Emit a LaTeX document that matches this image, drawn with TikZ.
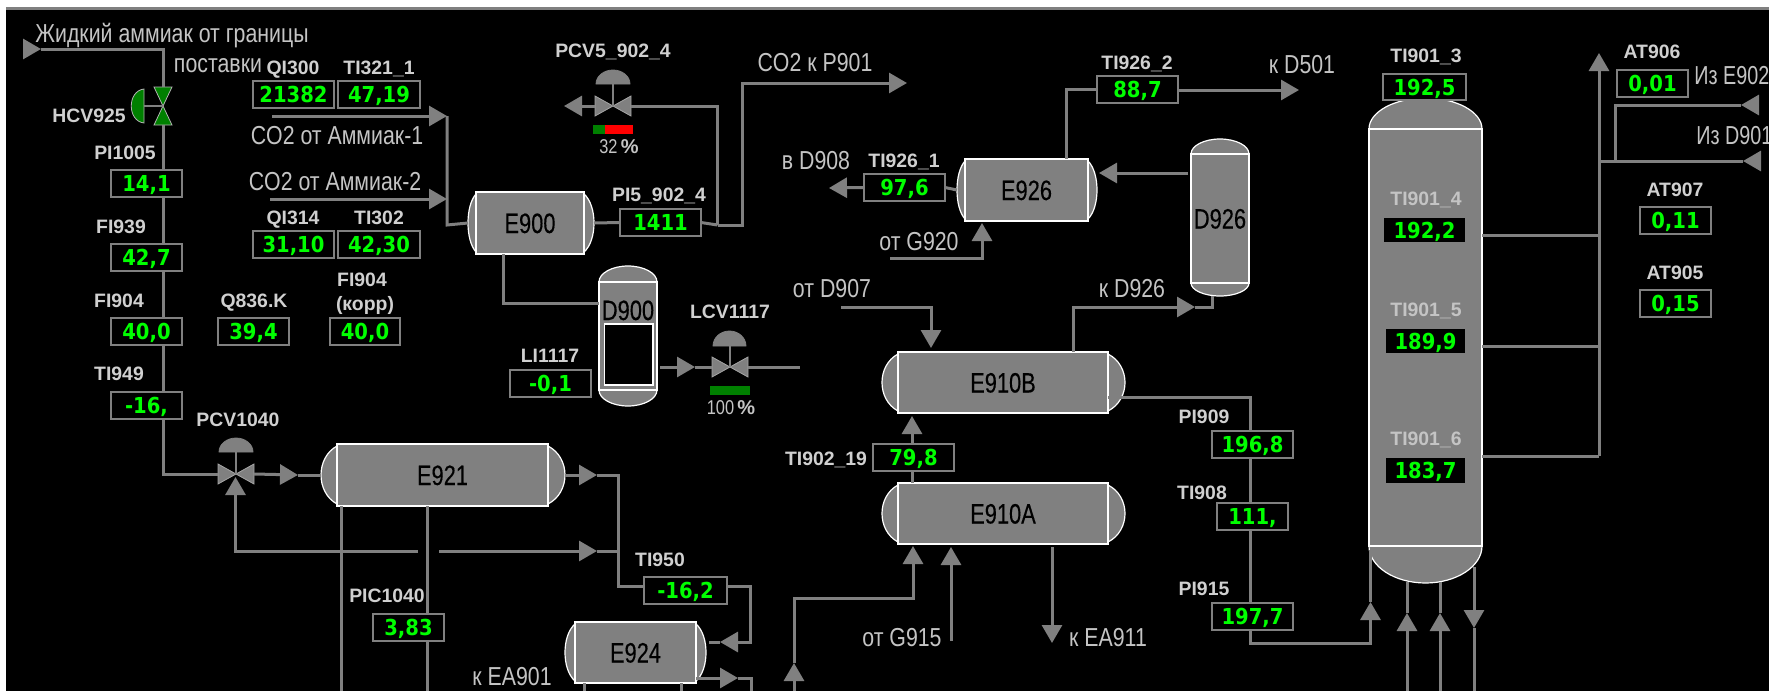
\documentclass[tikz,border=0pt]{standalone}
\usepackage{fontspec}
\usetikzlibrary{arrows.meta}
\newfontfamily\lblfamily{Liberation Sans}
\newfontfamily\txtfamily[FakeStretch=0.82]{Liberation Sans}
\newfontfamily\edgefamily[FakeStretch=0.76]{Liberation Sans}
\newfontfamily\namefamily[FakeStretch=0.78,FakeBold=0.25]{Liberation Sans}
\newfontfamily\valfamily[FakeStretch=0.89]{DejaVu Sans}
\newcommand{\lblfont}{\lblfamily\bfseries\fontsize{9.7}{11}\selectfont}
\newcommand{\txtfont}{\txtfamily\fontsize{13}{15}\selectfont}
\newcommand{\edgefont}{\edgefamily\fontsize{13}{15}\selectfont}
\newcommand{\namefont}{\namefamily\fontsize{14}{16}\selectfont}
\newcommand{\valfont}{\valfamily\bfseries\fontsize{11}{13}\selectfont}
\newcommand{\pctfont}{\txtfamily\fontsize{10}{12}\selectfont}
\definecolor{pipegray}{HTML}{808080}
\definecolor{lightg}{HTML}{C4C4C4}
\definecolor{boldg}{HTML}{D0D0D0}
\definecolor{valgreen}{HTML}{00FF00}
\definecolor{dkgreen}{HTML}{008000}
\tikzset{
  pipe/.style={draw=pipegray,line width=1.5pt},
  flow/.style={pipe,-{Triangle[length=9pt,width=10pt]}},
  valuebox/.style={draw=pipegray,line width=.75pt,fill=black,text=valgreen,font=\valfont,inner sep=0pt,outer sep=0pt,text height=8pt,text depth=0pt},
  valuedark/.style={fill=black,text=valgreen,font=\valfont,inner sep=0pt,outer sep=0pt,text height=8pt,text depth=0pt},
  lbl/.style={text=boldg,font=\lblfont,inner sep=0pt,text height=7pt,text depth=0pt},
  lbldim/.style={text=lightg,font=\lblfont,inner sep=0pt,text height=7pt,text depth=0pt},
  txt/.style={text=lightg,font=\txtfont,inner sep=0pt,text height=9.3pt,text depth=0pt},
  edgetxt/.style={text=lightg,font=\edgefont,inner sep=0pt,text height=9.3pt,text depth=0pt},
  pct/.style={text=lightg,font=\pctfont,inner sep=0pt,text height=7pt,text depth=0pt},
  vesselbody/.style={draw=white,line width=.75pt,fill=pipegray,text=black,font=\namefont,inner sep=0pt,outer sep=0pt,text height=10pt,text depth=0pt},
  vesselcap/.style={draw=white,line width=.6pt,fill=pipegray},
  gaugebox/.style={draw=white,line width=.75pt,fill=black,inner sep=0pt,outer sep=0pt},
  valvebody/.style={inner sep=0pt,outer sep=0pt},
  valveshape/.style={fill=pipegray,draw=gray!70!white,line width=.4pt},
  greenvalve/.style={fill=dkgreen,draw=gray!60!white,line width=.4pt},
  bonnetshape/.style={fill=pipegray,draw=pipegray,line width=.4pt},
  stem/.style={draw=pipegray,line width=.8pt},
}
% reading box: style, name, x1, y1, x2, y2, text
\newcommand{\rdg}[7][valuebox]{%
  \pgfmathsetmacro\rw{(#5-#3)*0.5}\pgfmathsetmacro\rh{(#6-#4)*0.5}%
  \node[#1,minimum width=\rw pt,minimum height=\rh pt] (#2) at ({(#3+#5)/2},{(#4+#6)/2}) {#7};}
% dome: style, L, R, base, apex
\newcommand{\dome}[5]{%
  \pgfmathsetmacro\dcx{(#2+#3)/2}\pgfmathsetmacro\dhw{(#3-#2)/2}%
  \pgfmathsetmacro\dya{#4+(#5-#4)*0.55}\pgfmathsetmacro\dxl{\dcx-\dhw*0.55}\pgfmathsetmacro\dxr{\dcx+\dhw*0.55}%
  \draw[#1] (#2,#4) .. controls (#2,\dya) and (\dxl,#5) .. (\dcx,#5) .. controls (\dxr,#5) and (#3,\dya) .. (#3,#4) -- cycle;}
% horizontal vessel: name, L, T, R, B, iL, iR, text
\newcommand{\hves}[8]{%
  \pgfmathsetmacro\cl{#6-(#6-#2)*4/3}\pgfmathsetmacro\cr{#7+(#4-#7)*4/3}%
  \pgfmathsetmacro\ct{#3+(#5-#3)*0.22}\pgfmathsetmacro\cb{#5-(#5-#3)*0.22}%
  \pgfmathsetmacro\vm{(#3+#5)/2}%
  \draw[vesselcap] (#6,#3+2) .. controls (\cl,\ct) and (\cl,\cb) .. (#6,#5-2) -- cycle;
  \draw[vesselcap] (#7,#3+2) .. controls (\cr,\ct) and (\cr,\cb) .. (#7,#5-2) -- cycle;
  \rdg[vesselbody]{#1}{#6}{#3}{#7}{#5}{#8}%
  \coordinate (#1-W) at (#2,\vm);\coordinate (#1-E) at (#4,\vm);}
% vertical vessel: name, L, apex top, T, R, B, apex bottom, text
\newcommand{\vves}[8]{%
  \dome{vesselcap}{#2}{#5}{#4}{#3}%
  \dome{vesselcap}{#2}{#5}{#6}{#7}%
  \rdg[vesselbody]{#1}{#2}{#4}{#5}{#6}{#8}}
% valve: name, x1, y1, x2, y2 (triangles pointing at each other, left and right)
\newcommand{\valve}[5]{%
  \rdg[valvebody]{#1}{#2}{#3}{#4}{#5}{}%
  \draw[valveshape] (#1.north west) -- (#1.south east) -- (#1.north east) -- (#1.south west) -- cycle;}
\begin{document}
\begin{tikzpicture}[x=0.5pt,y=-0.5pt]
\useasboundingbox (0,0) rectangle (1769,691);
\fill[white] (0,0) rectangle (1769,691);
\fill[black] (6,10) rectangle (1769,691);
\fill[pipegray] (6,7) rectangle (1769,10);

% ---------- vessels
\hves{E900}{468}{192}{594}{254}{476}{584}{E900}
\hves{E921}{321}{444}{565}{506}{337}{548}{E921}
\hves{E924}{565}{622}{706}{683}{575}{696}{E924}
\hves{E926}{957}{159}{1097}{221}{965}{1088}{E926}
\hves{E910B}{882}{352}{1125}{413}{898}{1108}{E910B}
\hves{E910A}{882}{483}{1125}{544}{898}{1108}{E910A}
\vves{D900}{599}{266}{282}{657}{390}{406}{}
\rdg[gaugebox]{D900g}{604.5}{324}{653}{385}{}
\node[vesselbody,draw=none,fill=none] (D900t) at (628,310) {D900};
\vves{D926}{1191}{139}{154}{1249}{283}{296}{D926}
\vves{T901}{1369}{98}{129}{1482}{546}{583}{}

% ---------- valves
\rdg[valvebody]{HCV}{154}{87}{172}{125}{}
\draw[greenvalve] (HCV.north west) -- (HCV.north east) -- (HCV.south west) -- (HCV.south east) -- cycle;
\draw[greenvalve] (144,89) .. controls (127,91) and (127,121) .. (144,123) -- cycle;
\coordinate (HCVact) at (144,106);
\draw[stem] (HCVact) -- (HCV.center);

\valve{PCV1}{218}{464}{254}{484}
\dome{bonnetshape}{219}{253}{452}{438}
\coordinate (PCV1top) at (236,452);
\draw[stem] (PCV1top) -- (PCV1.center);

\valve{PCV5}{595}{96}{631}{116}
\dome{bonnetshape}{596}{630}{84}{70}
\coordinate (PCV5top) at (613,84);
\draw[stem] (PCV5top) -- (PCV5.center);

\valve{LCV}{712}{357}{748}{377}
\dome{bonnetshape}{713}{746}{346}{331}
\coordinate (LCVtop) at (730,346);
\draw[stem] (LCVtop) -- (LCV.center);

% ---------- readings
\rdg{b21382}{253}{81}{334}{108}{21382}
\rdg{b4719}{338}{81}{420}{108}{47,19}
\rdg{b141}{111}{170}{182}{197}{14,1}
\rdg{b427}{111}{244}{182}{271}{42,7}
\rdg{b400a}{111}{318}{182}{345}{40,0}
\rdg{b394}{218}{318}{289}{345}{39,4}
\rdg{b400b}{330}{318}{400}{345}{40,0}
\rdg{b3110}{253}{231}{334}{258}{31,10}
\rdg{b4230}{338}{231}{420}{258}{42,30}
\rdg{b16}{111}{392}{182}{419}{-16,}
\rdg{b383}{373}{614}{444}{641}{3,83}
\rdg{b01}{510}{370}{591}{397}{-0,1}
\rdg{b1411}{620}{209}{701}{236}{1411}
\rdg{b976}{864}{174}{945}{201}{97,6}
\rdg{b887}{1097}{76}{1178}{103}{88,7}
\rdg{b798}{873}{444}{954}{471}{79,8}
\rdg{b162}{644}{577}{727}{604}{-16,2}
\rdg{b1925}{1383}{74}{1466}{100}{192,5}
\rdg{b001}{1617}{70}{1688}{97}{0,01}
\rdg{b011}{1640}{207}{1711}{234}{0,11}
\rdg{b015}{1640}{290}{1711}{317}{0,15}
\rdg[valuedark]{b1922}{1384}{218}{1465}{242}{192,2}
\rdg[valuedark]{b1899}{1386}{329}{1465}{353}{189,9}
\rdg[valuedark]{b1837}{1386}{458}{1465}{483}{183,7}
\rdg{b1968}{1212}{431}{1293}{458}{196,8}
\rdg{b111}{1217}{503}{1288}{530}{111,}
\rdg{b1977}{1212}{603}{1293}{630}{197,7}

% ---------- connector end points
\coordinate (inN) at (24,49);      \coordinate (inNt) at (41,49);
\coordinate (spine) at (163,300);
\coordinate (pcv1t) at (298,475);  \coordinate (pcvtip) at (235.5,477);
\coordinate (r1) at (418,551);     \coordinate (r2) at (439,551);    \coordinate (r2t) at (597,551);
\coordinate (e921t) at (597,475);  \coordinate (j618) at (618,475);  \coordinate (j618m) at (618,551);
\coordinate (jb) at (618,586);     \coordinate (jc) at (750,586);
\coordinate (e924it) at (720,642); \coordinate (e924i) at (709,642); \coordinate (jd) at (750,642);
\coordinate (e924ot) at (738,678); \coordinate (je) at (751,678);    \coordinate (je2) at (751,691);
\coordinate (bot584) at (584,691); \coordinate (bot681) at (681,691);
\coordinate (bot341) at (341,691); \coordinate (bot427) at (427,691);
\coordinate (co1) at (272,116);    \coordinate (co1t) at (447,116);
\coordinate (co2) at (270,199);    \coordinate (co2t) at (447,199);
\coordinate (j447) at (447,225);
\coordinate (j503) at (503,303);
\coordinate (jv) at (717.5,225);   \coordinate (pcv5l) at (564,106);
\coordinate (jco) at (742,83);     \coordinate (cot) at (907,83);
\coordinate (lcvt) at (695,367);   \coordinate (lcvo) at (800,367);  \coordinate (d900o) at (660,367);
\coordinate (t926) at (829,188);
\coordinate (j1066) at (1066,89);  \coordinate (d501t) at (1299,90);
\coordinate (d926i) at (1188,173); \coordinate (e926it) at (1099,173);
\coordinate (g920) at (890,258);   \coordinate (g920t) at (982,223);
\coordinate (d907) at (841,307);   \coordinate (d907t) at (931,348);
\coordinate (e910k) at (1073,352); \coordinate (kdt) at (1195,307);  \coordinate (kdo) at (1212,296);
\coordinate (t798) at (912,416);
\coordinate (a794) at (794,691);   \coordinate (a794t) at (794,663); \coordinate (a913) at (913,598);
\coordinate (a913t) at (913,546);
\coordinate (g915) at (951,641);   \coordinate (g915t) at (951,547);
\coordinate (ea911) at (1052,547); \coordinate (ea911t) at (1052,643);
\coordinate (x1250) at (1250,397); \coordinate (x1370) at (1370.5,643);
\coordinate (x1370t) at (1370.5,602); \coordinate (x1370u) at (1370.5,550);
\coordinate (c1407) at (1407,691); \coordinate (c1407t) at (1407,613); \coordinate (c1407u) at (1407,582);
\coordinate (c1440) at (1440,691); \coordinate (c1440t) at (1440,613); \coordinate (c1440u) at (1440,582);
\coordinate (c1474) at (1474,567); \coordinate (c1474t) at (1474,628); \coordinate (c1474d) at (1474,691);
\coordinate (r235) at (1482,235);  \coordinate (r346) at (1482,346); \coordinate (r456) at (1482,456);
\coordinate (v1599) at (1599,456); \coordinate (v1599t) at (1599,53);
\coordinate (f161) at (1599,161);  \coordinate (f161t) at (1743,161);\coordinate (f161s) at (1760,161);
\coordinate (f105) at (1615,105);  \coordinate (f105t) at (1741,105);\coordinate (f105s) at (1757,105);
\coordinate (f161j) at (1615,161);

% ---------- ammonia line
\draw[flow] (inN) -- (inNt);
\draw[pipe] (inNt) -| (HCV.north -| spine);
\draw[pipe] (HCV.south -| spine) -- (b141.north -| spine);
\draw[pipe] (b141.south -| spine) -- (b427.north -| spine);
\draw[pipe] (b427.south -| spine) -- (b400a.north -| spine);
\draw[pipe] (b400a.south -| spine) -- (b16.north -| spine);
\draw[pipe] (b16.south -| spine) |- (PCV1.west);
\draw[flow] (PCV1.east) -- (pcv1t);
\draw[pipe] (pcv1t) -- (E921-W);
\draw[flow] (r1) -| (pcvtip);
\draw[flow] (r2) -- (r2t);
\draw[pipe] (r2t) -- (j618m);
\draw[flow] (E921-E) -- (e921t);
\draw[pipe] (e921t) -- (j618) |- (b162.west |- jb);
\draw[flow] (b162.east |- jc) -- (jc) -- (jd) -- (e924it);
\draw[pipe] (e924it) -- (e924i);
\draw[flow] (E924.east |- e924ot) -- (e924ot);
\draw[pipe] (e924ot) -- (je) -- (je2);
\draw[pipe] (E924.south -| bot584) -- (bot584);
\draw[pipe] (E924.south -| bot681) -- (bot681);
\draw[pipe] (E921.south -| bot341) -- (bot341);
\draw[pipe] (E921.south -| bot427) -- (b383.north -| bot427);
\draw[pipe] (b383.south -| bot427) -- (bot427);

% ---------- CO2 and E900
\draw[flow] (co1) -- (co1t);
\draw[flow] (co2) -- (co2t);
\draw[pipe] (co1t) -- (j447) -- (E900-W);
\draw[pipe] (E900.south -| j503) -- (j503) -- (D900.west |- j503);
\draw[pipe] (E900-E) -- (b1411.west);
\draw[pipe] (b1411.east) -- (jv);
\draw[flow] (jv) -| (jco) -- (cot);
\draw[pipe] (jv) |- (PCV5.east);
\draw[flow] (PCV5.west) -- (pcv5l);
\draw[flow] (d900o) -- (lcvt);
\draw[pipe] (lcvt) -- (LCV.west);
\draw[pipe] (LCV.east) -- (lcvo);

% ---------- E926, D926
\draw[pipe] (b887.west |- j1066) -- (j1066) -- (E926.north -| j1066);
\draw[flow] (b887.east |- d501t) -- (d501t);
\draw[flow] (d926i) -- (e926it);
\draw[pipe] (E926-W) -- (b976.east);
\draw[flow] (b976.west) -- (t926);
\draw[flow] (g920) -| (g920t);
\draw[flow] (d907) -| (d907t);
\draw[flow] (e910k) |- (kdt);
\draw[pipe] (kdt) -| (kdo);

% ---------- E910
\draw[pipe] (E910A.north -| t798) -- (b798.south -| t798);
\draw[flow] (b798.north -| t798) -- (t798);
\draw[flow] (a794) -- (a794t);
\draw[flow] (a794t) |- (a913) -- (a913t);
\draw[flow] (g915) -- (g915t);
\draw[flow] (ea911) -- (ea911t);
\draw[pipe] (E910B.east |- x1250) -- (x1250) -- (b1968.north -| x1250);
\draw[pipe] (b1968.south -| x1250) -- (b111.north -| x1250);
\draw[pipe] (b111.south -| x1250) -- (b1977.north -| x1250);
\draw[flow] (b1977.south -| x1250) |- (x1370) -- (x1370t);
\draw[pipe] (x1370t) -- (x1370u);

% ---------- column
\draw[pipe] (c1407t) -- (c1407u); \draw[flow] (c1407) -- (c1407t);
\draw[pipe] (c1440t) -- (c1440u); \draw[flow] (c1440) -- (c1440t);
\draw[flow] (c1474) -- (c1474t); \draw[pipe] (c1474t) -- (c1474d);
\draw[pipe] (r235) -- (r235 -| v1599);
\draw[pipe] (r346) -- (r346 -| v1599);
\draw[pipe] (r456) -- (v1599);
\draw[flow] (v1599) -- (v1599t);
\draw[pipe] (f161t) -- (f161);
\draw[flow] (f161s) -- (f161t);
\draw[pipe] (f105t) -- (f105) -- (f161j);
\draw[flow] (f105s) -- (f105t);

% ---------- bars
\fill[dkgreen] (593,125) rectangle (605,134);
\fill[red] (605,125) rectangle (633,134);
\fill[dkgreen] (710,386) rectangle (750,395);
\node[pct] (p32) at (619,146) {32\,{\lblfamily\bfseries\%}};
\node[pct] (p100) at (731,407) {100\,{\lblfamily\bfseries\%}};

% ---------- labels
\node[lbl] (lHCV) at (89,115) {HCV925};
\node[lbl] (lPI1005) at (125,152) {PI1005};
\node[lbl] (lFI939) at (121,226) {FI939};
\node[lbl] (lFI904a) at (119,300) {FI904};
\node[lbl] (lQ836) at (254,300) {Q836.K};
\node[lbl] (lFI904b) at (362,279) {FI904};
\node[lbl] (lkorr) at (365,303) {(корр)};
\node[lbl] (lTI949) at (119,373) {TI949};
\node[lbl] (lPCV1040) at (238,419) {PCV1040};
\node[lbl] (lPIC1040) at (387,595) {PIC1040};
\node[lbl] (lLI1117) at (550,355) {LI1117};
\node[lbl] (lQI300) at (293,67) {QI300};
\node[lbl] (lTI321) at (379,67) {TI321\_1};
\node[lbl] (lQI314) at (293,217) {QI314};
\node[lbl] (lTI302) at (379,217) {TI302};
\node[lbl] (lPCV5) at (613,50) {PCV5\_902\_4};
\node[lbl] (lPI5) at (659,194) {PI5\_902\_4};
\node[lbl] (lLCV) at (730,311) {LCV1117};
\node[lbl] (lTI926a) at (904,160) {TI926\_1};
\node[lbl] (lTI926b) at (1137,62) {TI926\_2};
\node[lbl] (lTI902) at (826,458) {TI902\_19};
\node[lbl] (lTI950) at (660,559) {TI950};
\node[lbl] (lPI909) at (1204,416) {PI909};
\node[lbl] (lTI908) at (1202,492) {TI908};
\node[lbl] (lPI915) at (1204,588) {PI915};
\node[lbl] (lAT906) at (1652,51) {AT906};
\node[lbl] (lAT907) at (1675,189) {AT907};
\node[lbl] (lAT905) at (1675,272) {AT905};
\node[lbl] (lTI3) at (1426,55) {TI901\_3};
\node[lbldim] (lTI4) at (1426,198) {TI901\_4};
\node[lbldim] (lTI5) at (1426,309) {TI901\_5};
\node[lbldim] (lTI6) at (1426,438) {TI901\_6};
\node[txt] (tNH3a) at (172,33) {Жидкий аммиак от границы};
\node[txt] (tNH3b) at (218,63) {поставки};
\node[txt] (tCO1) at (337,135) {CO2 от Аммиак-1};
\node[txt] (tCO2) at (335,181) {CO2 от Аммиак-2};
\node[txt] (tP901) at (815,62) {CO2 к P901};
\node[txt] (tD908) at (816,160) {в D908};
\node[txt] (tG920) at (919,241) {от G920};
\node[txt] (tD907) at (832,288) {от D907};
\node[txt] (tD926) at (1132,288) {к D926};
\node[txt] (tD501) at (1302,64) {к D501};
\node[txt] (tG915) at (902,637) {от G915};
\node[txt] (tEA911) at (1108,637) {к EA911};
\node[txt] (tEA901) at (512,676) {к EA901};
\node[edgetxt,anchor=west] (tE902) at (1694,75) {Из E902};
\node[edgetxt,anchor=west] (tD901) at (1696,135) {Из D901};
\end{tikzpicture}
\end{document}
